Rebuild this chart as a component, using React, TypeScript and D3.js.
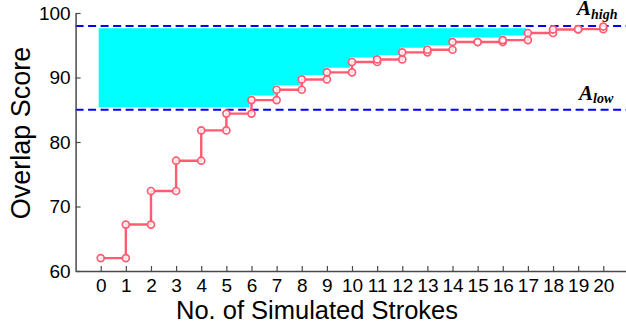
import React, { useEffect, useRef } from 'react'
import { area, axisBottom, axisLeft, curveStepAfter, line, scaleLinear, select } from 'd3'

// number of simulated strokes (x categories)
const strokes = [0, 1, 2, 3, 4, 5, 6, 7, 8, 9, 10, 11, 12, 13, 14, 15, 16, 17, 18, 19, 20]
// overlap score after each stroke
const scores = [62.0, 67.2, 72.4, 77.1, 81.8, 84.4, 86.5, 88.1, 89.7, 90.8, 92.4, 92.8, 93.9, 94.3, 95.5, 95.5, 95.8, 96.9, 97.45, 97.5, 97.9]
const yTicks = [60, 70, 80, 90, 100]
// threshold lines
const thresholds = [
  { name: 'high', value: 98 },
  { name: 'low', value: 85 }
]
// shaded band between the curve and A_high
const bandTop = 97.65
const bandFloor = 85.4
const bandLift = 0.7
const bandShift = -0.08

const axisColor = '#4a4a4a'
const lineColor = '#ff5c72'
const font = '"Liberation Sans", Arial, sans-serif'
const mathFont = '"Liberation Serif", "DejaVu Serif", serif'

const AxisBottom = ({ scale, transform }) => {
  const ref = useRef(null)
  useEffect(() => {
    if (!ref.current) return
    const g = select(ref.current)
    g.call(axisBottom(scale).tickValues(strokes).tickSizeInner(-5).tickSizeOuter(0).tickPadding(8).tickFormat(d => String(d)))
    g.attr('font-size', null).attr('font-family', null)
    g.select('.domain').attr('stroke', axisColor).attr('stroke-width', 1.5)
    g.selectAll('.tick line').attr('stroke', axisColor).attr('stroke-width', 1.2)
    g.selectAll('.tick text').attr('fill', '#000').style('font-size', '19px').style('font-family', font)
  }, [scale])
  return <g ref={ref} transform={transform} />
}

const AxisLeft = ({ scale, transform }) => {
  const ref = useRef(null)
  useEffect(() => {
    if (!ref.current) return
    const g = select(ref.current)
    g.call(axisLeft(scale).tickValues(yTicks).tickSizeInner(-5).tickSizeOuter(0).tickPadding(5))
    g.attr('font-size', null).attr('font-family', null)
    g.select('.domain').attr('stroke', axisColor).attr('stroke-width', 1.5)
    g.selectAll('.tick line').attr('stroke', axisColor).attr('stroke-width', 1.2)
    g.selectAll('.tick text').attr('fill', '#000').style('font-size', '19px').style('font-family', font)
  }, [scale])
  return <g ref={ref} transform={transform} />
}

export default function App() {
  const width = 626
  const height = 325

  const x = scaleLinear().domain([-1, 21]).range([75.6, 628.4])
  const y = scaleLinear().domain([60, 100]).range([271, 13])

  const pts = strokes.map((s, i) => [s, scores[i]])
  const stepLine = line().x(d => x(d[0])).y(d => y(d[1])).curve(curveStepAfter)

  // markers at both ends of every horizontal step
  const markers = []
  strokes.forEach((s, i) => {
    markers.push([s, scores[i]])
    if (i < strokes.length - 1) markers.push([strokes[i + 1], scores[i]])
  })

  // band: from the curve (lifted a little) up to just under A_high
  const bandPts = []
  strokes.forEach((s, i) => {
    const lo = Math.max(scores[i] + bandLift, bandFloor)
    if (lo < bandTop - 0.2) bandPts.push([s + bandShift, lo])
  })
  if (bandPts.length) {
    const last = bandPts[bandPts.length - 1]
    bandPts.push([last[0] + 1, last[1]])
  }
  const band = area().x(d => x(d[0])).y0(d => y(d[1])).y1(() => y(bandTop)).curve(curveStepAfter)

  return (
    <svg width={width} height={height} style={{ position: 'absolute', left: 0, top: 0, background: '#fff' }}>
      <path d={band(bandPts)} fill="#00ffff" />
      {thresholds.map(t => (
        <line key={t.name} x1={x(-1)} x2={width} y1={y(t.value)} y2={y(t.value)}
          stroke="#0000ff" strokeWidth={2} strokeDasharray="8,4.5" />
      ))}
      <path d={stepLine(pts)} fill="none" stroke={lineColor} strokeWidth={2.4} />
      {markers.map((d, i) => (
        <circle key={i} cx={x(d[0])} cy={y(d[1])} r={3.5} fill="#fff" fillOpacity={0.8}
          stroke={lineColor} strokeWidth={1.7} />
      ))}
      <AxisBottom scale={x} transform={`translate(0, ${y(60)})`} />
      <AxisLeft scale={y} transform={`translate(${x(-1)}, 0)`} />

      <text x={577} y={15} style={{ fontFamily: mathFont, fontStyle: 'italic', fontWeight: 'bold', fontSize: 21 }}>
        A<tspan dy={3.5} style={{ fontSize: 14 }}>high</tspan>
      </text>
      <text x={579} y={99.5} style={{ fontFamily: mathFont, fontStyle: 'italic', fontWeight: 'bold', fontSize: 21 }}>
        A<tspan dy={3} style={{ fontSize: 14 }}>low</tspan>
      </text>

      <text x={317} y={319} textAnchor="middle" style={{ fontFamily: font, fontSize: 25.5 }}>
        No. of Simulated Strokes
      </text>
      <text transform="translate(30, 133) rotate(-90)" textAnchor="middle" style={{ fontFamily: font, fontSize: 27 }}>
        Overlap Score
      </text>
    </svg>
  )
}
